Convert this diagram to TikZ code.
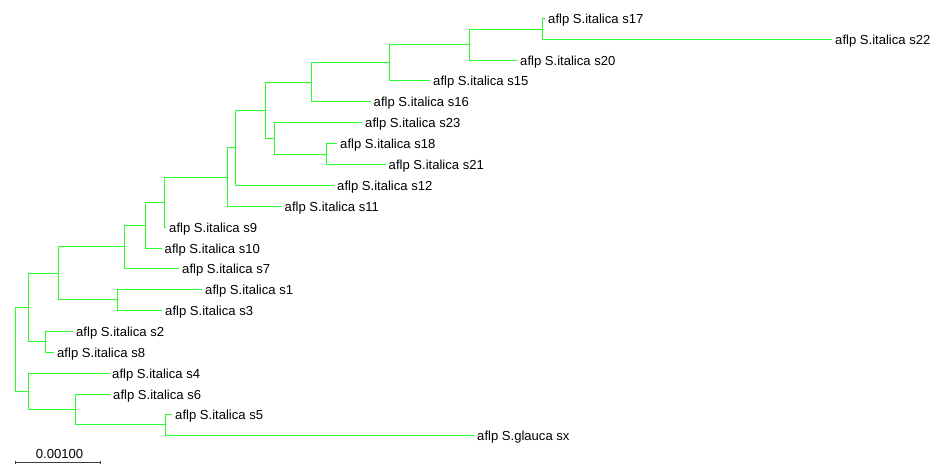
\documentclass[tikz,border=0pt]{standalone}
\usepackage{fontspec}
\setmainfont{Liberation Sans}
\definecolor{branch}{RGB}{40,255,40}
\definecolor{barcol}{RGB}{60,60,60}
\begin{document}
\begin{tikzpicture}[x=0.75pt,y=-0.75pt,
  edge/.style={draw=branch,line width=1.1pt,line cap=rect},
  leaf/.style={anchor=base west,inner sep=0pt,xshift=2.6pt,yshift=-3.5pt,font=\fontsize{9.8}{11}\selectfont},
  scalebar/.style={draw=barcol,line width=0.8pt}]
\fill[white] (0,0) rectangle (931,465);
\useasboundingbox (0,0) rectangle (931,465);
% internal nodes
\coordinate (R) at (15.5,349.5);
\coordinate (A) at (28.5,307.5);
\coordinate (B) at (28.5,391.5);
\coordinate (C) at (58.5,273.5);
\coordinate (D) at (45.5,341.5);
\coordinate (E) at (124.5,246.5);
\coordinate (F) at (117.5,299.5);
\coordinate (G) at (145.5,225.5);
\coordinate (H) at (164.5,202.5);
\coordinate (I) at (227.5,177.5);
\coordinate (J) at (235.5,147.5);
\coordinate (K) at (265.5,110.5);
\coordinate (L) at (311.5,82.5);
\coordinate (N) at (389.5,62.5);
\coordinate (O) at (469.5,44.5);
\coordinate (P) at (542.5,29.5);
\coordinate (M) at (274.5,138.5);
\coordinate (Q) at (326.5,154.5);
\coordinate (S) at (75.5,409.5);
\coordinate (T) at (165.5,424.5);
% leaf tips
\coordinate (t17) at (544.5,18.5);
\coordinate (t22) at (831.5,39.5);
\coordinate (t20) at (516.5,60.5);
\coordinate (t15) at (429.5,80.5);
\coordinate (t16) at (370,101.5);
\coordinate (t23) at (361.5,122.5);
\coordinate (t18) at (336.5,143.5);
\coordinate (t21) at (385,164.5);
\coordinate (t12) at (333.5,185.5);
\coordinate (t11) at (281,206.5);
\coordinate (t9) at (165.5,227.5);
\coordinate (t10) at (161,248.5);
\coordinate (t7) at (178.5,268.5);
\coordinate (t1) at (201.5,289.5);
\coordinate (t3) at (161.5,310.5);
\coordinate (t2) at (72.5,331.5);
\coordinate (t8) at (53.5,352.5);
\coordinate (t4) at (108.5,373.5);
\coordinate (t6) at (109.5,394.5);
\coordinate (t5) at (171.5,414.5);
\coordinate (tx) at (473.5,435.5);
% labels
\node[leaf] (l17) at (t17) {aflp S.italica s17};
\node[leaf] (l22) at (t22) {aflp S.italica s22};
\node[leaf] (l20) at (t20) {aflp S.italica s20};
\node[leaf] (l15) at (t15) {aflp S.italica s15};
\node[leaf] (l16) at (t16) {aflp S.italica s16};
\node[leaf] (l23) at (t23) {aflp S.italica s23};
\node[leaf] (l18) at (t18) {aflp S.italica s18};
\node[leaf] (l21) at (t21) {aflp S.italica s21};
\node[leaf] (l12) at (t12) {aflp S.italica s12};
\node[leaf] (l11) at (t11) {aflp S.italica s11};
\node[leaf] (l9) at (t9) {aflp S.italica s9};
\node[leaf] (l10) at (t10) {aflp S.italica s10};
\node[leaf] (l7) at (t7) {aflp S.italica s7};
\node[leaf] (l1) at (t1) {aflp S.italica s1};
\node[leaf] (l3) at (t3) {aflp S.italica s3};
\node[leaf] (l2) at (t2) {aflp S.italica s2};
\node[leaf] (l8) at (t8) {aflp S.italica s8};
\node[leaf] (l4) at (t4) {aflp S.italica s4};
\node[leaf] (l6) at (t6) {aflp S.italica s6};
\node[leaf] (l5) at (t5) {aflp S.italica s5};
\node[leaf] (lx) at (tx) {aflp S.glauca sx};
% branches
\begin{scope}[edge]
\draw (R) |- (A);
\draw (R) |- (B);
\draw (A) |- (C);
\draw (A) |- (D);
\draw (D) |- (t2);
\draw (D) |- (t8);
\draw (C) |- (E);
\draw (C) |- (F);
\draw (F) |- (t1);
\draw (F) |- (t3);
\draw (E) |- (G);
\draw (E) |- (t7);
\draw (G) |- (H);
\draw (G) |- (t10);
\draw (H) |- (I);
\draw (H) |- (t9);
\draw (I) |- (J);
\draw (I) |- (t11);
\draw (J) |- (K);
\draw (J) |- (t12);
\draw (K) |- (L);
\draw (K) |- (M);
\draw (L) |- (N);
\draw (L) |- (t16);
\draw (N) |- (O);
\draw (N) |- (t15);
\draw (O) |- (P);
\draw (O) |- (t20);
\draw (P) |- (t17);
\draw (P) |- (t22);
\draw (M) |- (t23);
\draw (M) |- (Q);
\draw (Q) |- (t18);
\draw (Q) |- (t21);
\draw (B) |- (t4);
\draw (B) |- (S);
\draw (S) |- (t6);
\draw (S) |- (T);
\draw (T) |- (t5);
\draw (T) |- (tx);
\end{scope}
% scale bar
\coordinate (sb1) at (15.5,462.5);
\coordinate (sb2) at (100.5,462.5);
\path[scalebar] (sb1) -- (sb2);
\path[scalebar] ([yshift=1.5pt]sb1) -- ([yshift=-1pt]sb1);
\path[scalebar] ([yshift=1.5pt]sb2) -- ([yshift=-1pt]sb2);
\node[anchor=base,inner sep=0pt,font=\fontsize{9.8}{11}\selectfont] (sbl) at (59.5,458.5) {0.00100};
\end{tikzpicture}
\end{document}
